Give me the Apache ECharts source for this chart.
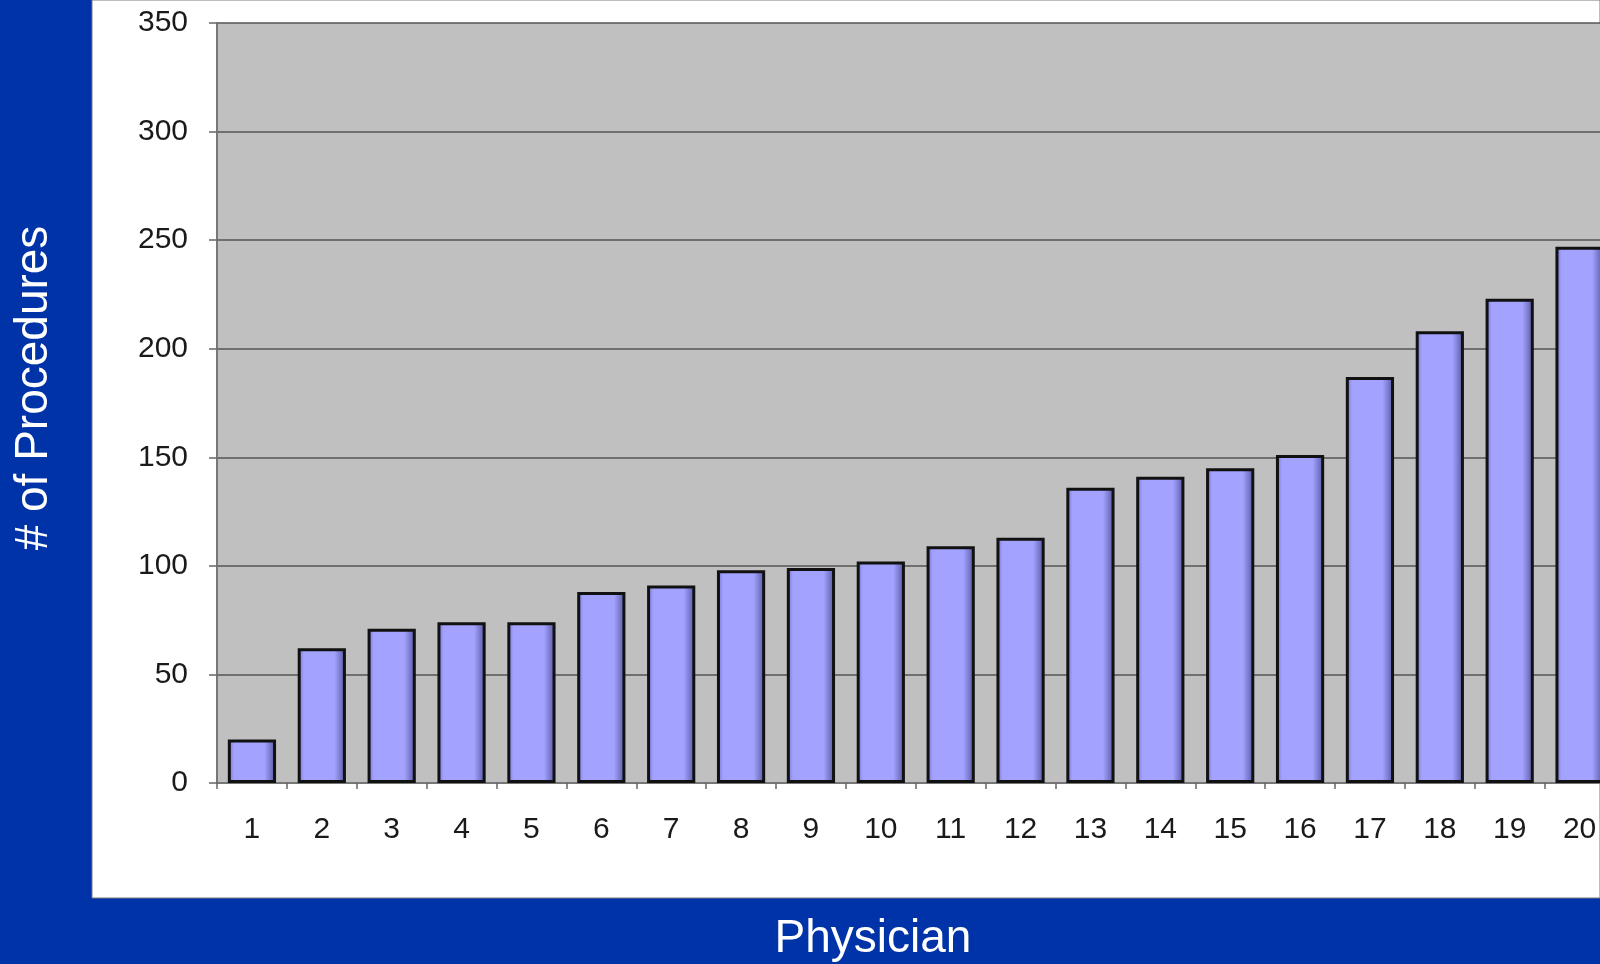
<!DOCTYPE html>
<html>
<head>
<meta charset="utf-8">
<script src="https://cdn.jsdelivr.net/npm/echarts@6/dist/echarts.min.js"></script>
<style>
html,body{margin:0;padding:0;background:#0033a8;}
#chart{width:1600px;height:964px;}
</style>
</head>
<body>
<div id="chart"></div>
<script>
const categories = ['1','2','3','4','5','6','7','8','9','10','11','12','13','14','15','16','17','18','19','20'];
const procedures = [20, 62, 71, 74, 74, 88, 91, 98, 99, 102, 109, 113, 136, 141, 145, 151, 187, 208, 223, 247];
const yTitle = '# of Procedures';
const xTitle = 'Physician';

const chart = echarts.init(document.getElementById('chart'), null, {renderer: 'canvas'});
const font = 'Arial, "Liberation Sans", sans-serif';
chart.setOption({
  backgroundColor: '#0033a8',
  animation: false,
  graphic: [
    {type: 'rect', z: -10, silent: true, shape: {x: 92, y: 0, width: 1508, height: 898},
     style: {fill: '#ffffff', stroke: '#7a7a7a', lineWidth: 1}},
    {type: 'text', z: 10, rotation: Math.PI / 2, position: [34, 388],
     style: {text: yTitle, fill: '#ffffff', font: '46px ' + font, textAlign: 'center', textVerticalAlign: 'middle'}},
    {type: 'text', z: 10, position: [873, 939],
     style: {text: xTitle, fill: '#ffffff', font: '46px ' + font, textAlign: 'center', textVerticalAlign: 'middle'}}
  ],
  grid: {
    left: 217, top: 23, width: 1397.5, height: 760,
    outerBoundsMode: 'none',
    show: true, backgroundColor: '#c0c0c0', borderWidth: 0, containLabel: false
  },
  xAxis: {
    type: 'category',
    data: categories,
    boundaryGap: true,
    axisLine: {lineStyle: {color: '#777777', width: 2}},
    axisTick: {show: true, length: 6, lineStyle: {color: '#666666', width: 1.5}},
    axisLabel: {color: '#1a1a1a', fontSize: 30, fontFamily: font, margin: 32, interval: 0},
    splitLine: {show: false}
  },
  yAxis: {
    type: 'value',
    min: 0, max: 350, interval: 50,
    axisLine: {show: true, lineStyle: {color: '#777777', width: 2}},
    axisTick: {show: true, length: 8, lineStyle: {color: '#666666', width: 1.5}},
    axisLabel: {color: '#1a1a1a', fontSize: 30, fontFamily: font, margin: 29},
    splitLine: {show: true, lineStyle: {color: '#555555', width: 1.5}}
  },
  series: [{
    type: 'bar',
    data: procedures,
    barCategoryGap: '31%',
    itemStyle: {
      color: new echarts.graphic.LinearGradient(0, 0, 1, 0, [
        {offset: 0, color: '#7070c8'},
        {offset: 0.13, color: '#a3a3ff'},
        {offset: 0.76, color: '#a3a3ff'},
        {offset: 1, color: '#53539e'}
      ]),
      borderColor: '#111111',
      borderWidth: 3
    }
  }]
});
</script>
</body>
</html>
